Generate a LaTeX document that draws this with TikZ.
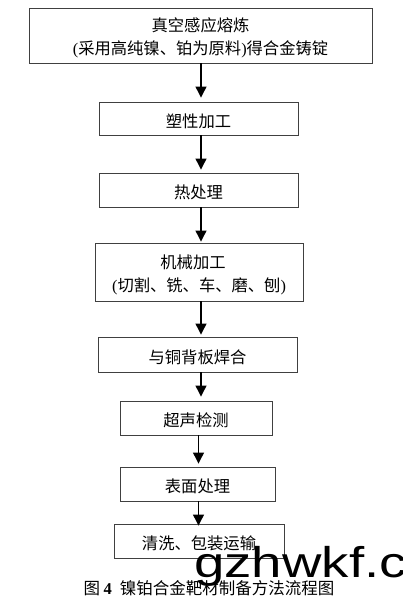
\documentclass[tikz,border=0pt]{standalone}
\usepackage{fontspec}
\setmainfont{Liberation Serif}
\newfontfamily\cjk{Noto Sans CJK SC}
\newfontfamily\wmfont{Liberation Sans}
\usetikzlibrary{arrows.meta}
\newcommand{\lp}{{\rmfamily(}}
\newcommand{\rp}{{\rmfamily)}}
\tikzset{
  stepbox/.style={draw=black!75, line width=0.9pt, inner sep=0pt},
  steptext/.style={inner sep=0pt, align=center, font=\cjk\fontsize{16.3}{22.5}\selectfont, yshift=-2.5pt},
  arr/.style={-{Triangle[length=11pt,width=11pt]}, line width=1.2pt, black, shorten >=2pt},
}
\begin{document}
\begin{tikzpicture}[x=1pt,y=-1pt]
\useasboundingbox (0,0) rectangle (403,609);
\fill[white] (0,0) rectangle (403,609);
\coordinate (ax) at (201,0);
\coordinate (bx) at (198.5,0);
\node[stepbox, minimum width=343pt, minimum height=55pt] (b1) at (200.5,35.5) {};
\node[steptext] (t1) at (b1.center) {真空感应熔炼\\ \lp 采用高纯镍、铂为原料\rp 得合金铸锭};
\node[stepbox, minimum width=199pt, minimum height=33pt] (b2) at (198.5,118.5) {};
\node[steptext] (t2) at (b2.center) {塑性加工};
\node[stepbox, minimum width=199pt, minimum height=34pt] (b3) at (198.5,190) {};
\node[steptext] (t3) at (b3.center) {热处理};
\node[stepbox, minimum width=208pt, minimum height=58pt] (b4) at (199,272) {};
\node[steptext, yshift=-0.5pt] (t4) at (b4.center) {\hspace*{-12pt}机械加工\\ \lp 切割、铣、车、磨、刨\rp};
\node[stepbox, minimum width=199pt, minimum height=35pt] (b5) at (197.5,354.5) {};
\node[steptext] (t5) at (b5.center) {与铜背板焊合};
\node[stepbox, minimum width=152pt, minimum height=34pt] (b6) at (196,418) {};
\node[steptext] (t6) at (b6.center) {超声检测};
\node[stepbox, minimum width=155pt, minimum height=34pt] (b7) at (197.5,484) {};
\node[steptext] (t7) at (b7.center) {表面处理};
\node[stepbox, minimum width=170pt, minimum height=34pt] (b8) at (199,541) {};
\node[steptext] (t8) at (b8.center) {清洗、包装运输};

\draw[arr, shorten >=4pt] (ax |- b1.south) -- (ax |- b2.north);
\draw[arr, shorten >=3pt] (ax |- b2.south) -- (ax |- b3.north);
\draw[arr, shorten >=1pt] (ax |- b3.south) -- (ax |- b4.north);
\draw[arr] (ax |- b4.south) -- (ax |- b5.north);
\draw[arr, shorten >=4pt] (ax |- b5.south) -- (ax |- b6.north);
\draw[arr, shorten >=3pt] (bx |- b6.south) -- (bx |- b7.north);
\draw[arr, shorten >=-2pt] (bx |- b7.south) -- (bx |- b8.north);

\node[anchor=base west, inner sep=0pt, font=\wmfont\fontsize{43}{43}\selectfont, xscale=1.27] (wm) at (194,577) {gzhwkf.c};

\node[anchor=base, inner sep=0pt, font=\cjk\fontsize{16.5}{18}\selectfont] (cap) at (209,594)
  {图 {\rmfamily\bfseries 4}\hspace{8pt}镍铂合金靶材制备方法流程图};
\end{tikzpicture}
\end{document}
